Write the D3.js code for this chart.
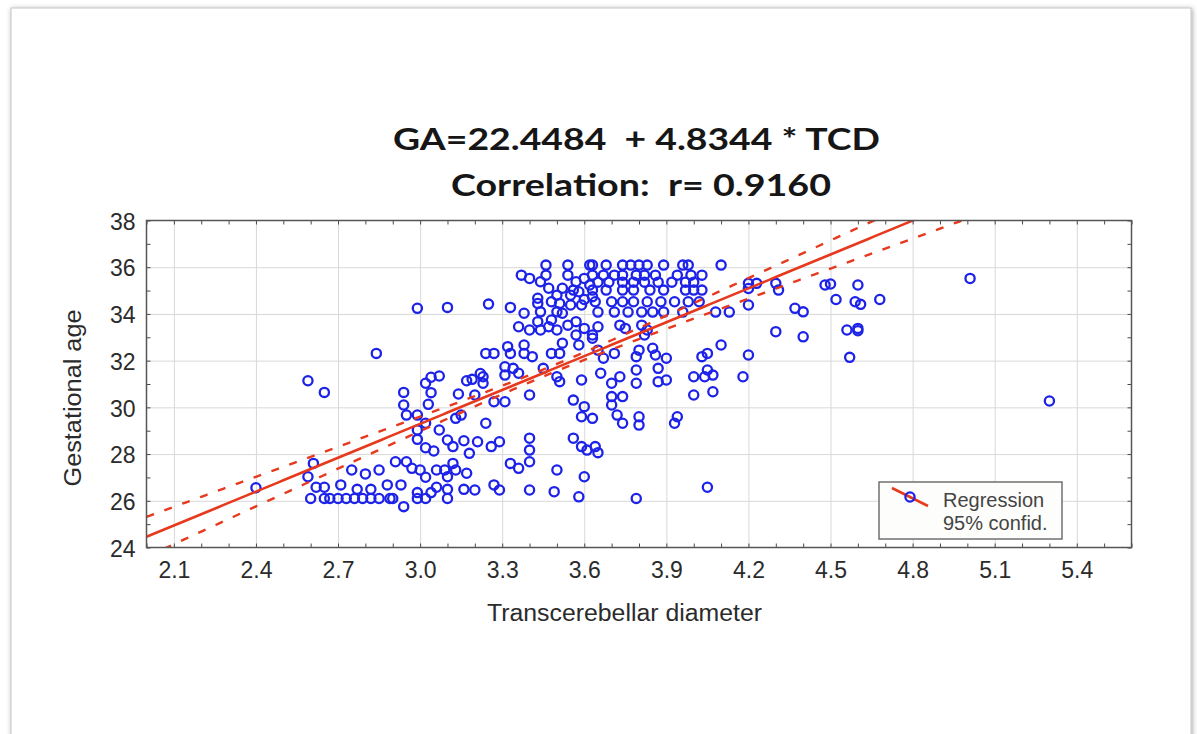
<!DOCTYPE html>
<html>
<head>
<meta charset="utf-8">
<script src="https://cdn.jsdelivr.net/npm/d3@7"></script>
<style>
  html, body { margin: 0; padding: 0; background: #ffffff; }
  svg { display: block; }
</style>
</head>
<body>
<svg id="chart" width="1197" height="734"></svg>
<script>
// Transcerebellar diameter (TCD) of each case
const tcd = [
  2.40, 2.99, 3.10, 2.84, 2.59, 2.65, 2.94, 3.02, 3.04, 3.07, 3.04, 3.17, 2.94, 2.95, 2.99, 3.03,
  3.02, 2.99, 3.14, 3.15, 3.13, 2.99, 3.02, 3.05, 3.07, 3.10, 3.12, 3.16, 3.18, 2.61, 2.59, 2.75,
  2.80, 2.85, 2.91, 2.95, 2.97, 3.00, 3.02, 3.06, 3.09, 3.10, 3.12, 3.13, 3.17, 2.62, 2.65, 2.71,
  2.77, 2.82, 2.88, 2.93, 2.99, 3.04, 3.06, 3.10, 3.16,
  2.60, 2.65, 2.67, 2.70, 2.73, 2.76, 2.79, 2.82, 2.85, 2.89, 2.90, 2.99, 3.02, 3.10, 2.94,
  3.46, 3.54, 3.62, 3.37, 3.40, 3.44, 3.46, 3.54, 3.57, 3.60,
  3.25, 3.33, 3.38, 3.43, 3.44, 3.48, 3.51, 3.50, 3.55, 3.59,
  3.36, 3.40, 3.44, 3.47, 3.50, 3.43, 3.48, 3.54, 3.57, 3.60, 3.63, 3.58,
  3.24, 3.27, 3.32, 3.33, 3.38, 3.38, 3.41, 3.48, 3.51,
  3.31, 3.34, 3.31, 3.36, 3.45, 3.50, 3.51, 3.59,
  3.23, 3.23, 3.20, 3.27, 3.31, 3.40, 3.56, 3.60, 3.59, 3.63, 3.24,
  3.21, 3.26, 3.29, 3.40, 3.40, 3.40, 3.33, 3.36, 3.56, 3.59, 3.61, 3.50, 3.60,
  3.20, 3.27, 3.29, 3.40, 3.49, 3.58,
  3.43, 3.52, 3.58, 3.63, 3.57, 3.52,
  3.52, 3.55, 3.60, 3.56, 3.62, 3.50, 3.47, 3.19, 3.22,
  3.63, 3.68, 3.74, 3.77, 3.80, 3.83, 3.89, 3.96, 3.98, 4.10,
  3.63, 3.67, 3.71, 3.74, 3.79, 3.82, 3.86, 3.94, 3.99, 4.03,
  3.65, 3.69, 3.74, 3.78, 3.82, 3.87, 3.92, 3.97, 4.00,
  3.63, 3.68, 3.74, 3.78, 3.84, 3.89, 3.97, 4.00, 4.03,
  3.64, 3.70, 3.74, 3.78, 3.83, 3.88, 3.93, 3.98, 4.02,
  3.65, 3.71, 3.76, 3.81, 3.85, 3.89, 3.96, 4.08, 4.13,
  3.65, 3.73, 3.75, 3.81, 3.83,
  3.63, 3.82, 4.10, 3.65, 3.67, 3.71, 3.79, 3.80, 3.85, 3.86, 3.90, 4.03, 4.05,
  3.66, 3.73, 3.79, 3.79, 3.87, 3.87, 3.90, 4.00, 4.04, 4.05, 4.07, 3.70,
  3.70, 3.74, 4.00, 4.07, 3.70,
  3.72, 3.74, 3.80, 3.80, 3.93, 3.94, 3.64, 3.65, 4.05, 3.79,
  4.20, 4.23, 4.30, 4.31, 4.20, 4.20, 4.30, 4.37, 4.40, 4.40, 4.20, 4.18,
  4.48, 4.50, 4.52, 4.60, 4.59, 4.61, 4.68, 4.56, 4.60, 4.60, 4.57, 5.01, 5.30
];

// Gestational age (weeks) of each case, same order as tcd
const ga = [
  26.56, 34.24, 34.28, 32.31, 31.14, 30.64, 30.64, 31.03, 31.29, 31.34, 30.63, 31.14, 30.10, 29.67, 29.67, 30.13,
  29.32, 29.03, 30.57, 29.67, 29.53, 28.63, 28.27, 28.13, 29.03, 28.60, 28.32, 28.57, 28.03, 27.60, 27.03, 27.32,
  27.15, 27.32, 27.67, 27.67, 27.39, 27.32, 27.01, 27.32, 27.32, 27.03, 27.60, 27.32, 27.18, 26.58, 26.58, 26.68,
  26.49, 26.49, 26.68, 26.68, 26.35, 26.35, 26.58, 26.49, 26.49,
  26.10, 26.10, 26.10, 26.10, 26.10, 26.10, 26.10, 26.10, 26.10, 26.10, 26.10, 26.10, 26.10, 26.10, 25.75,
  36.09, 36.09, 36.09, 35.66, 35.52, 35.38, 35.66, 35.66, 35.38, 35.52,
  34.42, 34.28, 34.03, 34.45, 34.09, 34.52, 34.45, 34.09, 34.38, 34.38,
  33.45, 33.31, 33.31, 33.45, 33.31, 33.67, 33.74, 33.52, 33.10, 33.38, 33.10, 32.67,
  32.31, 32.31, 32.60, 32.31, 32.67, 32.31, 32.17, 32.31, 32.31,
  31.74, 31.67, 31.38, 31.46, 31.67, 31.31, 31.10, 31.17,
  31.31, 31.03, 30.53, 30.24, 30.24, 30.53, 30.31, 30.03, 29.60, 29.53, 29.32,
  28.53, 28.32, 28.53, 28.68, 28.17, 27.67, 27.60, 27.39, 28.68, 28.32, 28.17, 27.32, 27.03,
  26.46, 26.68, 26.46, 26.46, 26.39, 26.17,
  34.67, 34.03, 34.95, 34.74, 33.67, 32.75,
  35.10, 34.80, 34.62, 35.02, 35.24, 34.80, 35.10, 31.20, 31.45,
  36.09, 36.09, 36.09, 36.09, 36.09, 36.09, 36.09, 36.09, 36.09, 36.09,
  35.66, 35.66, 35.66, 35.66, 35.66, 35.66, 35.66, 35.66, 35.66, 35.66,
  35.36, 35.36, 35.36, 35.36, 35.36, 35.36, 35.36, 35.36, 35.36,
  35.02, 35.02, 35.02, 35.02, 35.02, 35.02, 35.02, 35.02, 35.02,
  34.52, 34.52, 34.52, 34.52, 34.52, 34.52, 34.52, 34.52, 34.52,
  34.08, 34.08, 34.08, 34.08, 34.08, 34.08, 34.08, 34.08, 34.08,
  33.45, 33.52, 33.38, 33.52, 33.31,
  32.96, 33.10, 32.67, 32.45, 32.10, 32.31, 32.17, 32.45, 32.53, 32.24, 32.10, 32.17, 32.31,
  31.46, 31.31, 31.60, 31.03, 31.67, 31.10, 31.17, 31.31, 31.31, 31.60, 31.38, 31.03,
  30.46, 30.46, 30.53, 30.67, 30.10,
  29.67, 29.32, 29.60, 29.24, 29.32, 29.60, 28.32, 28.06, 26.58, 26.10,
  35.31, 35.31, 35.31, 35.02, 35.09, 34.38, 33.24, 34.24, 34.09, 33.02, 32.24, 31.31,
  35.24, 35.28, 34.62, 35.24, 34.52, 34.41, 34.62, 33.31, 33.38, 33.28, 32.14, 35.52, 30.27
];

// Axis tick labels
const xTickLabels = ["2.1", "2.4", "2.7", "3.0", "3.3", "3.6", "3.9", "4.2", "4.5", "4.8", "5.1", "5.4"];
const yTickLabels = ["24", "26", "28", "30", "32", "34", "36", "38"];

// Fitted line as drawn (slope from the equation) and its 95% confidence band
const fitIntercept = 14.79;
const fitSlope = 4.8344;
const bandCenter = 3.48;   // mean TCD
const bandBase = 0.15;     // half-width at the mean
const bandSpread = 0.57;   // growth of half-width away from the mean

const titleLines = ["GA=22.4484  + 4.8344 * TCD", "Correlation:  r= 0.9160"];
const xTitle = "Transcerebellar diameter";
const yTitle = "Gestational age";
const legendLabels = ["Regression", "95% confid."];

const svg = d3.select("#chart");

// drop shadow for the card
const defs = svg.append("defs");
const shadow = defs.append("filter").attr("id", "cardShadow")
  .attr("x", "-5%").attr("y", "-5%").attr("width", "110%").attr("height", "110%");
shadow.append("feDropShadow").attr("dx", 1).attr("dy", 1).attr("stdDeviation", 2.5)
  .attr("flood-color", "#000").attr("flood-opacity", 0.35);

svg.append("rect")
  .attr("x", 11).attr("y", 8).attr("width", 1180).attr("height", 760)
  .attr("fill", "#ffffff").attr("stroke", "#c4c4c4").attr("stroke-width", 1)
  .attr("filter", "url(#cardShadow)");

const plot = { left: 146.5, right: 1131.5, top: 220.5, bottom: 547.5 };
const x = d3.scaleLinear().domain([2.0, 5.6]).range([plot.left, plot.right]);
const y = d3.scaleLinear().domain([24, 38]).range([plot.bottom, plot.top]);

const xMajor = xTickLabels.map(Number);
const yMajor = yTickLabels.map(Number);
const xMinor = d3.range(20, 57).map(d => d / 10);
const yMinor = d3.range(24, 39);

const W = plot.right - plot.left, H = plot.bottom - plot.top;

svg.append("rect").attr("x", plot.left).attr("y", plot.top)
  .attr("width", W).attr("height", H).attr("fill", "#ffffff");

// gridlines
const grid = svg.append("g").attr("class", "grid");
grid.append("g").attr("transform", `translate(0,${plot.bottom})`)
  .call(d3.axisBottom(x).tickValues(xMajor).tickSize(-H).tickFormat(""))
  .call(g => g.select(".domain").remove())
  .call(g => g.selectAll("line").attr("stroke", "#d8d8d8").attr("stroke-width", 1));
grid.append("g").attr("transform", `translate(${plot.left},0)`)
  .call(d3.axisLeft(y).tickValues(yMajor.slice(1, -1)).tickSize(-W).tickFormat(""))
  .call(g => g.select(".domain").remove())
  .call(g => g.selectAll("line").attr("stroke", "#d8d8d8").attr("stroke-width", 1));

// clip for lines and points
defs.append("clipPath").attr("id", "plotClip")
  .append("rect").attr("x", plot.left).attr("y", plot.top).attr("width", W).attr("height", H);

const body = svg.append("g").attr("clip-path", "url(#plotClip)");

// scatter points
const blue = "#1d22e8";
body.append("g").selectAll("circle")
  .data(tcd.map((t, i) => ({ t, g: ga[i] })))
  .join("circle")
  .attr("cx", d => x(d.t))
  .attr("cy", d => y(d.g))
  .attr("r", 4.6)
  .attr("fill", "none")
  .attr("stroke", blue)
  .attr("stroke-width", 2.3);

// regression line and confidence band
const fit = t => fitIntercept + fitSlope * t;
const halfWidth = t => Math.sqrt(bandBase * bandBase + bandSpread * bandSpread * (t - bandCenter) * (t - bandCenter));
const xs = d3.range(2.0, 5.601, 0.02);
const line = d3.line().x(d => x(d[0])).y(d => y(d[1]));
const red = "#e6391d";

body.append("path").datum(xs.map(t => [t, fit(t) + halfWidth(t)]))
  .attr("d", line).attr("fill", "none").attr("stroke", red)
  .attr("stroke-width", 2.4).attr("stroke-dasharray", "8,11");
body.append("path").datum(xs.map(t => [t, fit(t) - halfWidth(t)]))
  .attr("d", line).attr("fill", "none").attr("stroke", red)
  .attr("stroke-width", 2.4).attr("stroke-dasharray", "8,11");
body.append("path").datum(xs.map(t => [t, fit(t)]))
  .attr("d", line).attr("fill", "none").attr("stroke", red).attr("stroke-width", 2.6);

// axes: ticks point inward on all four sides
const axisColor = "#4a4a4a";
const styleAxis = g => {
  g.select(".domain").remove();
  g.selectAll("line").attr("stroke", axisColor).attr("stroke-width", 1);
};
svg.append("g").attr("transform", `translate(0,${plot.bottom})`)
  .call(d3.axisBottom(x).tickValues(xMinor).tickSize(-4).tickFormat("")).call(styleAxis);
svg.append("g").attr("transform", `translate(0,${plot.top})`)
  .call(d3.axisTop(x).tickValues(xMinor).tickSize(-4).tickFormat("")).call(styleAxis);
svg.append("g").attr("transform", `translate(${plot.left},0)`)
  .call(d3.axisLeft(y).tickValues(yMinor).tickSize(-4).tickFormat("")).call(styleAxis);
svg.append("g").attr("transform", `translate(${plot.right},0)`)
  .call(d3.axisRight(y).tickValues(yMinor).tickSize(-4).tickFormat("")).call(styleAxis);

// labelled axes
const labelFont = "'Liberation Sans', Arial, sans-serif";
const textColor = "#2b2b2b";
svg.append("g").attr("transform", `translate(0,${plot.bottom})`)
  .call(d3.axisBottom(x).tickValues(xMajor).tickSize(0).tickPadding(14).tickFormat((d, i) => xTickLabels[i]))
  .call(g => g.select(".domain").remove())
  .call(g => g.selectAll("text").attr("font-family", labelFont).attr("font-size", 23).attr("fill", textColor));
svg.append("g").attr("transform", `translate(${plot.left},0)`)
  .call(d3.axisLeft(y).tickValues(yMajor).tickSize(0).tickPadding(11).tickFormat((d, i) => yTickLabels[i]))
  .call(g => g.select(".domain").remove())
  .call(g => g.selectAll("text").attr("font-family", labelFont).attr("font-size", 23)
    .attr("fill", textColor).attr("dy", "0.38em"));

// plot frame
svg.append("rect").attr("x", plot.left).attr("y", plot.top).attr("width", W).attr("height", H)
  .attr("fill", "none").attr("stroke", "#555555").attr("stroke-width", 1.5);

// axis titles
svg.append("text").attr("x", 624.5).attr("y", 621).attr("text-anchor", "middle")
  .attr("font-family", labelFont).attr("font-size", 23).attr("fill", textColor)
  .attr("textLength", 275).attr("lengthAdjust", "spacingAndGlyphs").text(xTitle);
svg.append("text").attr("transform", "translate(81,398) rotate(-90)").attr("text-anchor", "middle")
  .attr("font-family", labelFont).attr("font-size", 23).attr("fill", textColor)
  .attr("textLength", 177).attr("lengthAdjust", "spacingAndGlyphs").text(yTitle);

// title
const titleFont = "Lato, 'Open Sans', sans-serif";
svg.append("text").attr("x", 636.5).attr("y", 150).attr("text-anchor", "middle")
  .attr("font-family", titleFont).attr("font-weight", "bold").attr("font-size", 31)
  .attr("fill", "#161616").style("white-space", "pre")
  .attr("textLength", 487).attr("lengthAdjust", "spacingAndGlyphs").text(titleLines[0]);
svg.append("text").attr("x", 641).attr("y", 196).attr("text-anchor", "middle")
  .attr("font-family", titleFont).attr("font-weight", "bold").attr("font-size", 31)
  .attr("fill", "#161616").style("white-space", "pre")
  .attr("textLength", 380).attr("lengthAdjust", "spacingAndGlyphs").text(titleLines[1]);

// legend
const legend = svg.append("g");
legend.append("rect").attr("x", 879).attr("y", 482).attr("width", 183).attr("height", 57)
  .attr("fill", "#fdfdfb").attr("stroke", "#707070").attr("stroke-width", 1.5);
legend.append("line").attr("x1", 892).attr("y1", 488).attr("x2", 928).attr("y2", 506)
  .attr("stroke", red).attr("stroke-width", 2.6);
legend.append("circle").attr("cx", 910).attr("cy", 497).attr("r", 4.6)
  .attr("fill", "none").attr("stroke", blue).attr("stroke-width", 2.3);
legend.selectAll("text.lg").data(legendLabels).join("text").attr("class", "lg")
  .attr("x", 943).attr("y", (d, i) => 507 + i * 23)
  .attr("font-family", labelFont).attr("font-size", 20).attr("fill", "#444444").text(d => d);
</script>
</body>
</html>
